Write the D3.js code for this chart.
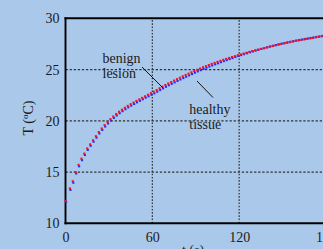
<!DOCTYPE html>
<html><head><meta charset="utf-8">
<script src="https://cdn.jsdelivr.net/npm/d3@7"></script>
<style>
html,body{margin:0;padding:0;background:#aac9ea;overflow:hidden}
svg{display:block}
text{font-family:"Liberation Serif","Times New Roman",serif;fill:#1a1a1a}
</style></head>
<body><svg id="c" width="323" height="249"></svg>
<script>
const times = [0,3,5,7,9,11,13,15,17,19,21,23,25,27,29,31,33,35,37,39,41,43,45,47,49,51,53,55,57,59,61,63,65,67,69,71,73,75,77,79,81,83,85,87,89,91,93,95,97,99,101,103,105,107,109,111,113,115,117,119,121,123,125,127,129,131,133,135,137,139,141,143,145,147,149,151,153,155,157,159,161,163,165,167,169,171,173,175,177];
const lesion = [12.2,13.4,14.1,15.0,15.7,16.3,16.8,17.3,17.7,18.1,18.5,18.9,19.25,19.58,19.88,20.16,20.42,20.66,20.88,21.08,21.27,21.45,21.62,21.78,21.94,22.09,22.24,22.39,22.54,22.69,22.84,23.0,23.17,23.33,23.49,23.64,23.78,23.92,24.06,24.2,24.34,24.47,24.6,24.73,24.86,24.98,25.1,25.22,25.33,25.44,25.55,25.65,25.75,25.85,25.95,26.04,26.13,26.22,26.31,26.4,26.48,26.56,26.64,26.72,26.8,26.87,26.94,27.01,27.08,27.15,27.22,27.29,27.36,27.43,27.49,27.55,27.61,27.67,27.73,27.79,27.84,27.89,27.94,27.99,28.04,28.09,28.14,28.19,28.24];
const healthy = [12.15,13.3,14.0,14.9,15.6,16.2,16.7,17.2,17.6,18.0,18.4,18.8,19.15,19.48,19.78,20.06,20.32,20.56,20.78,20.98,21.17,21.35,21.52,21.68,21.84,21.99,22.14,22.29,22.43,22.58,22.72,22.88,23.04,23.2,23.36,23.51,23.65,23.79,23.93,24.07,24.21,24.34,24.47,24.6,24.73,24.86,24.98,25.1,25.22,25.33,25.44,25.55,25.65,25.76,25.86,25.96,26.06,26.16,26.26,26.36,26.45,26.54,26.63,26.72,26.81,26.89,26.97,27.05,27.13,27.21,27.29,27.36,27.43,27.5,27.57,27.63,27.69,27.75,27.81,27.87,27.92,27.97,28.02,28.07,28.12,28.17,28.22,28.27,28.32];
const xTicks = [0,60,120,180];
const yTicks = [10,15,20,25,30];
const xGrid = [60,120];
const yGrid = [15,20,25];

const svg = d3.select("#c");
const x = d3.scaleLinear().domain([0,180]).range([65.5,326]);
const y = d3.scaleLinear().domain([10,30]).range([223.3,18.3]);

// grid
svg.append("g").selectAll("line").data(yGrid).join("line")
  .attr("x1",x(0)).attr("x2",x(180)).attr("y1",d=>y(d)).attr("y2",d=>y(d))
  .attr("stroke","#333").attr("stroke-width",1.2).attr("stroke-dasharray","2.3,1.8");
svg.append("g").selectAll("line").data(xGrid).join("line")
  .attr("y1",y(10)).attr("y2",y(30)).attr("x1",d=>x(d)).attr("x2",d=>x(d))
  .attr("stroke","#333").attr("stroke-width",1.2).attr("stroke-dasharray","1.6,1.6");

// axes (labels only)
const xa = svg.append("g").attr("transform",`translate(0,${y(10)})`)
  .call(d3.axisBottom(x).tickValues(xTicks).tickSize(0).tickPadding(5));
const ya = svg.append("g").attr("transform",`translate(${x(0)},0)`)
  .call(d3.axisLeft(y).tickValues(yTicks).tickSize(0).tickPadding(6));
[xa,ya].forEach(g=>{g.select(".domain").remove();
  g.selectAll("text").style("font-family",'"Liberation Serif",serif').style("font-size","14px").attr("fill","#1a1a1a");});
xa.selectAll("text").attr("dy","0.95em");

// frame
svg.append("line").attr("x1",x(0)).attr("x2",x(0)).attr("y1",y(10)+1).attr("y2",y(30)-1).attr("stroke","#000").attr("stroke-width",1.9);
svg.append("line").attr("x1",x(0)-1).attr("x2",x(180)).attr("y1",y(10)).attr("y2",y(10)).attr("stroke","#000").attr("stroke-width",1.9);
svg.append("line").attr("x1",x(0)-1).attr("x2",x(180)).attr("y1",y(30)).attr("y2",y(30)).attr("stroke","#000").attr("stroke-width",1.9);

// data
const s = 2.1;
svg.append("g").selectAll("rect").data(times).join("rect")
  .attr("x",(d)=>x(d)-s/2+0.6).attr("y",(d,i)=>y(healthy[i])-s/2+0.4).attr("width",s).attr("height",s).attr("fill","#1f2cff");
svg.append("g").selectAll("rect").data(times).join("rect")
  .attr("x",(d)=>x(d)-s/2).attr("y",(d,i)=>y(lesion[i])-s/2).attr("width",s).attr("height",s).attr("fill","#f0102a");

// annotations
const ann = svg.append("g").style("font-size","14px");
ann.append("text").attr("x",102.5).attr("y",62.5).text("benign");
ann.append("text").attr("x",102.5).attr("y",77.5).text("lesion");
ann.append("text").attr("x",189.3).attr("y",114).text("healthy");
ann.append("text").attr("x",189.3).attr("y",129).text("tissue");
svg.append("line").attr("x1",142).attr("y1",67).attr("x2",163).attr("y2",88).attr("stroke","#111").attr("stroke-width",1);
svg.append("line").attr("x1",197).attr("y1",81).attr("x2",213).attr("y2",97.5).attr("stroke","#111").attr("stroke-width",1);

// axis titles
svg.append("text").attr("x",193).attr("y",254.5).attr("text-anchor","middle").style("font-size","14px").text("t (s)");
const yt = svg.append("text").attr("transform","translate(33,118) rotate(-90)").attr("text-anchor","middle").style("font-size","14px");
yt.append("tspan").text("T (");
yt.append("tspan").attr("dy",-5).style("font-size","9px").text("o");
yt.append("tspan").attr("dy",5).text("C)");
</script></body></html>
